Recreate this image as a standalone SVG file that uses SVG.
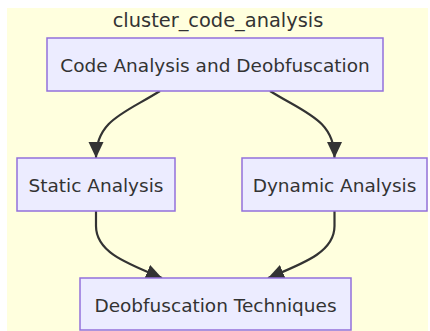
<svg xmlns="http://www.w3.org/2000/svg" width="430" height="331" viewBox="0 0 430 331">
  <defs>
    <style>
      .cluster { fill: #ffffde; stroke: none; }
      .cluster-label { font-family: "DejaVu Sans", sans-serif; font-size: 19.4px; fill: #333333; text-anchor: middle; }
      .node rect { fill: #ececff; stroke: #9370db; stroke-width: 1.5; }
      .node text { font-family: "DejaVu Sans", sans-serif; font-size: 18.5px; fill: #333333; text-anchor: middle; dominant-baseline: central; }
      .edge { fill: none; stroke: #333333; stroke-width: 2.2; }
    </style>
    <marker id="arrow" markerUnits="userSpaceOnUse" markerWidth="18" markerHeight="16" refX="16" refY="7.5" orient="auto">
      <path d="M0,0 L16,7.5 L0,15 z" fill="#333333"/>
    </marker>
  </defs>

  <rect width="430" height="331" fill="#ffffff"/>

  <!-- subgraph container -->
  <g id="cluster_code_analysis">
    <rect class="cluster" x="7" y="8" width="421" height="323"/>
    <text class="cluster-label" x="218" y="27">cluster_code_analysis</text>
  </g>

  <!-- connectors -->
  <g id="edges">
    <path class="edge" d="M160,91 C125,113 96,120 96,158" marker-end="url(#arrow)"/>
    <path class="edge" d="M270,91 C305,113 334.5,120 334.5,158" marker-end="url(#arrow)"/>
    <path class="edge" d="M96,211 L96,226 C96,252 126,263 162,278" marker-end="url(#arrow)"/>
    <path class="edge" d="M334.5,211 L334.5,226 C334.5,252 304,263 268,278" marker-end="url(#arrow)"/>
  </g>

  <!-- nodes -->
  <g id="code_analysis" class="node">
    <rect x="47" y="38" width="336" height="53"/>
    <text x="215" y="65">Code Analysis and Deobfuscation</text>
  </g>
  <g id="static_analysis" class="node">
    <rect x="17" y="158" width="158" height="53"/>
    <text x="96" y="185">Static Analysis</text>
  </g>
  <g id="dynamic_analysis" class="node">
    <rect x="242" y="158" width="185" height="53"/>
    <text x="334.5" y="185">Dynamic Analysis</text>
  </g>
  <g id="deobfuscation_techniques" class="node">
    <rect x="80" y="278" width="271" height="52"/>
    <text x="215.5" y="305">Deobfuscation Techniques</text>
  </g>
</svg>
